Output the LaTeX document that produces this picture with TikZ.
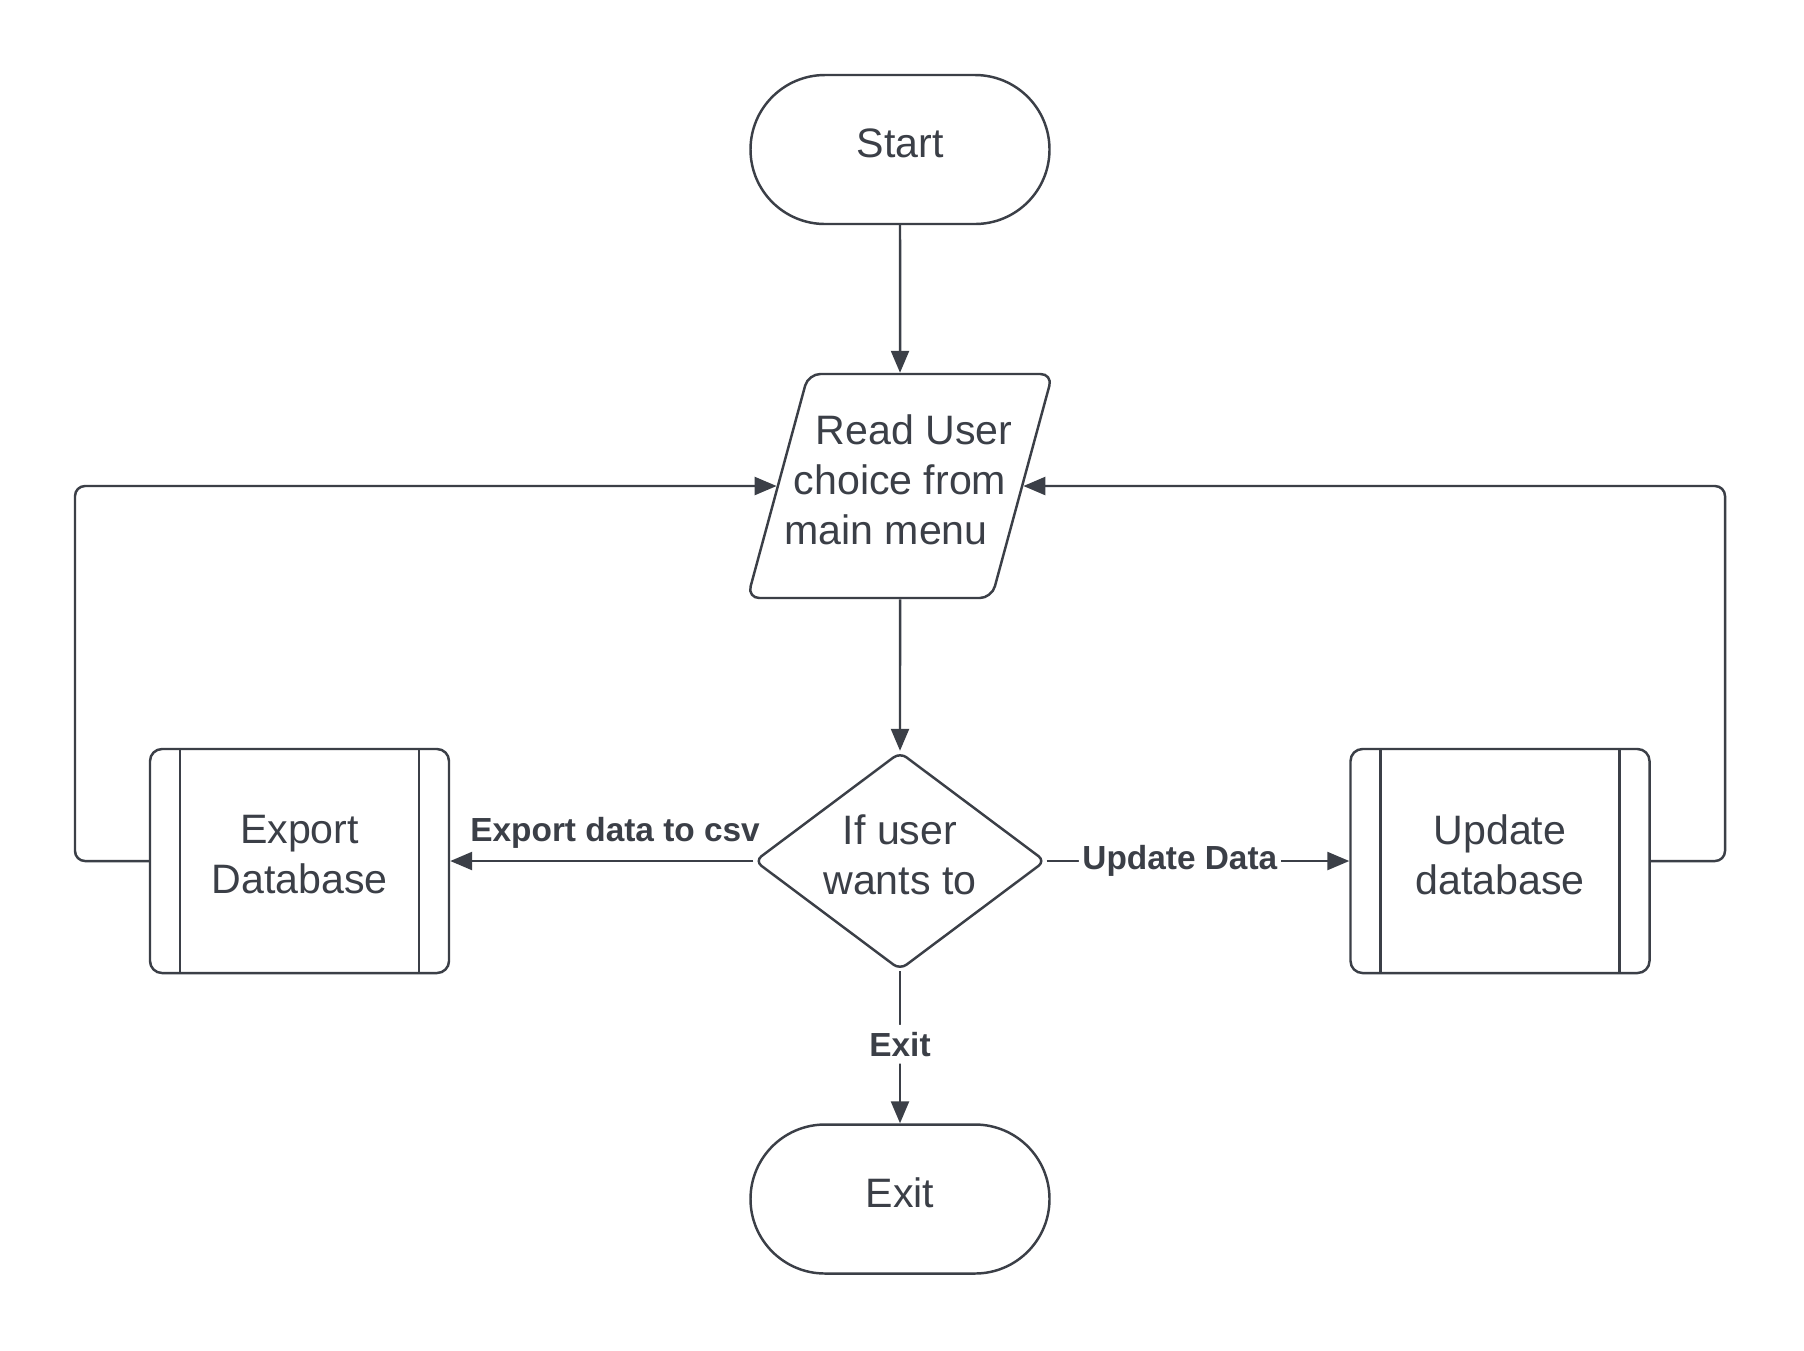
\documentclass[tikz,border=0pt]{standalone}
\usepackage{fontspec}
\setmainfont{Liberation Sans}
\usetikzlibrary{shapes.geometric,arrows.meta}
\definecolor{ink}{HTML}{3B3F47}
\tikzset{
  base/.style={draw=ink, line width=0.7pt, text=ink, font=\fontsize{11.7}{14.3}\selectfont, align=center, inner sep=0pt, text depth=0.13cm},
  terminal/.style={base, rectangle, rounded corners=0.745cm, minimum width=2.99cm, minimum height=1.49cm},
  io/.style={base, trapezium, trapezium left angle=67, trapezium right angle=113, trapezium stretches body=true, inner xsep=-0.24cm, minimum height=2.24cm, rounded corners=0.12cm},
  decision/.style={base, diamond, shape aspect=1.33, minimum width=2.91cm, minimum height=2.18cm, rounded corners=0.08cm},
  subproc/.style={base, rectangle, rounded corners=0.12cm, minimum width=2.99cm, minimum height=2.24cm,
    path picture={\draw[ink, line width=0.7pt] ([xshift=0.3cm]path picture bounding box.north west) -- ([xshift=0.3cm]path picture bounding box.south west) ([xshift=-0.3cm]path picture bounding box.north east) -- ([xshift=-0.3cm]path picture bounding box.south east);}},
  flow/.style={draw=ink, line width=0.7pt, -{Triangle[length=0.22cm,width=0.18cm]}, rounded corners=0.1cm},
  lbl/.style={font=\fontsize{9.5}{11}\selectfont\bfseries, text=ink}
}
\begin{document}
\begin{tikzpicture}
\fill[white] (0,0) rectangle (18.04,-13.50);
\useasboundingbox (0,0) rectangle (18.04,-13.50);
\node[terminal] (start) at (9.00,-1.495) {Start};
\node[io] (read) at (9.00,-4.86) {\hspace*{0.28cm}Read User\\choice from\\main menu\hspace*{0.28cm}};
\node[decision] (dec) at (9.00,-8.61) {If user\\wants to};
\node[subproc] (export) at (2.995,-8.61) {Export\\Database};
\node[subproc] (update) at (15.00,-8.61) {Update\\database};
\node[terminal] (exit) at (9.00,-11.99) {Exit};
\coordinate (lft) at (0.75,0);
\coordinate (rgt) at (17.25,0);
\draw[flow] (start) -- (read);
\draw[flow] (read) -- (dec);
\draw[flow] (dec.west) -- node[lbl, above=0cm, pos=0.456] {Export data to csv} (export.east);
\draw[flow] (dec.east) -- node[lbl, fill=white, inner sep=1pt, pos=0.44] {Update Data} (update.west);
\draw[flow] (dec.south) -- node[lbl, fill=white, inner sep=2pt, pos=0.48] {Exit} (exit.north);
\draw[flow] (export.west) -| (lft |- read.west) -- (read.west);
\draw[flow] (update.east) -| (rgt |- read.east) -- (read.east);
\end{tikzpicture}
\end{document}
